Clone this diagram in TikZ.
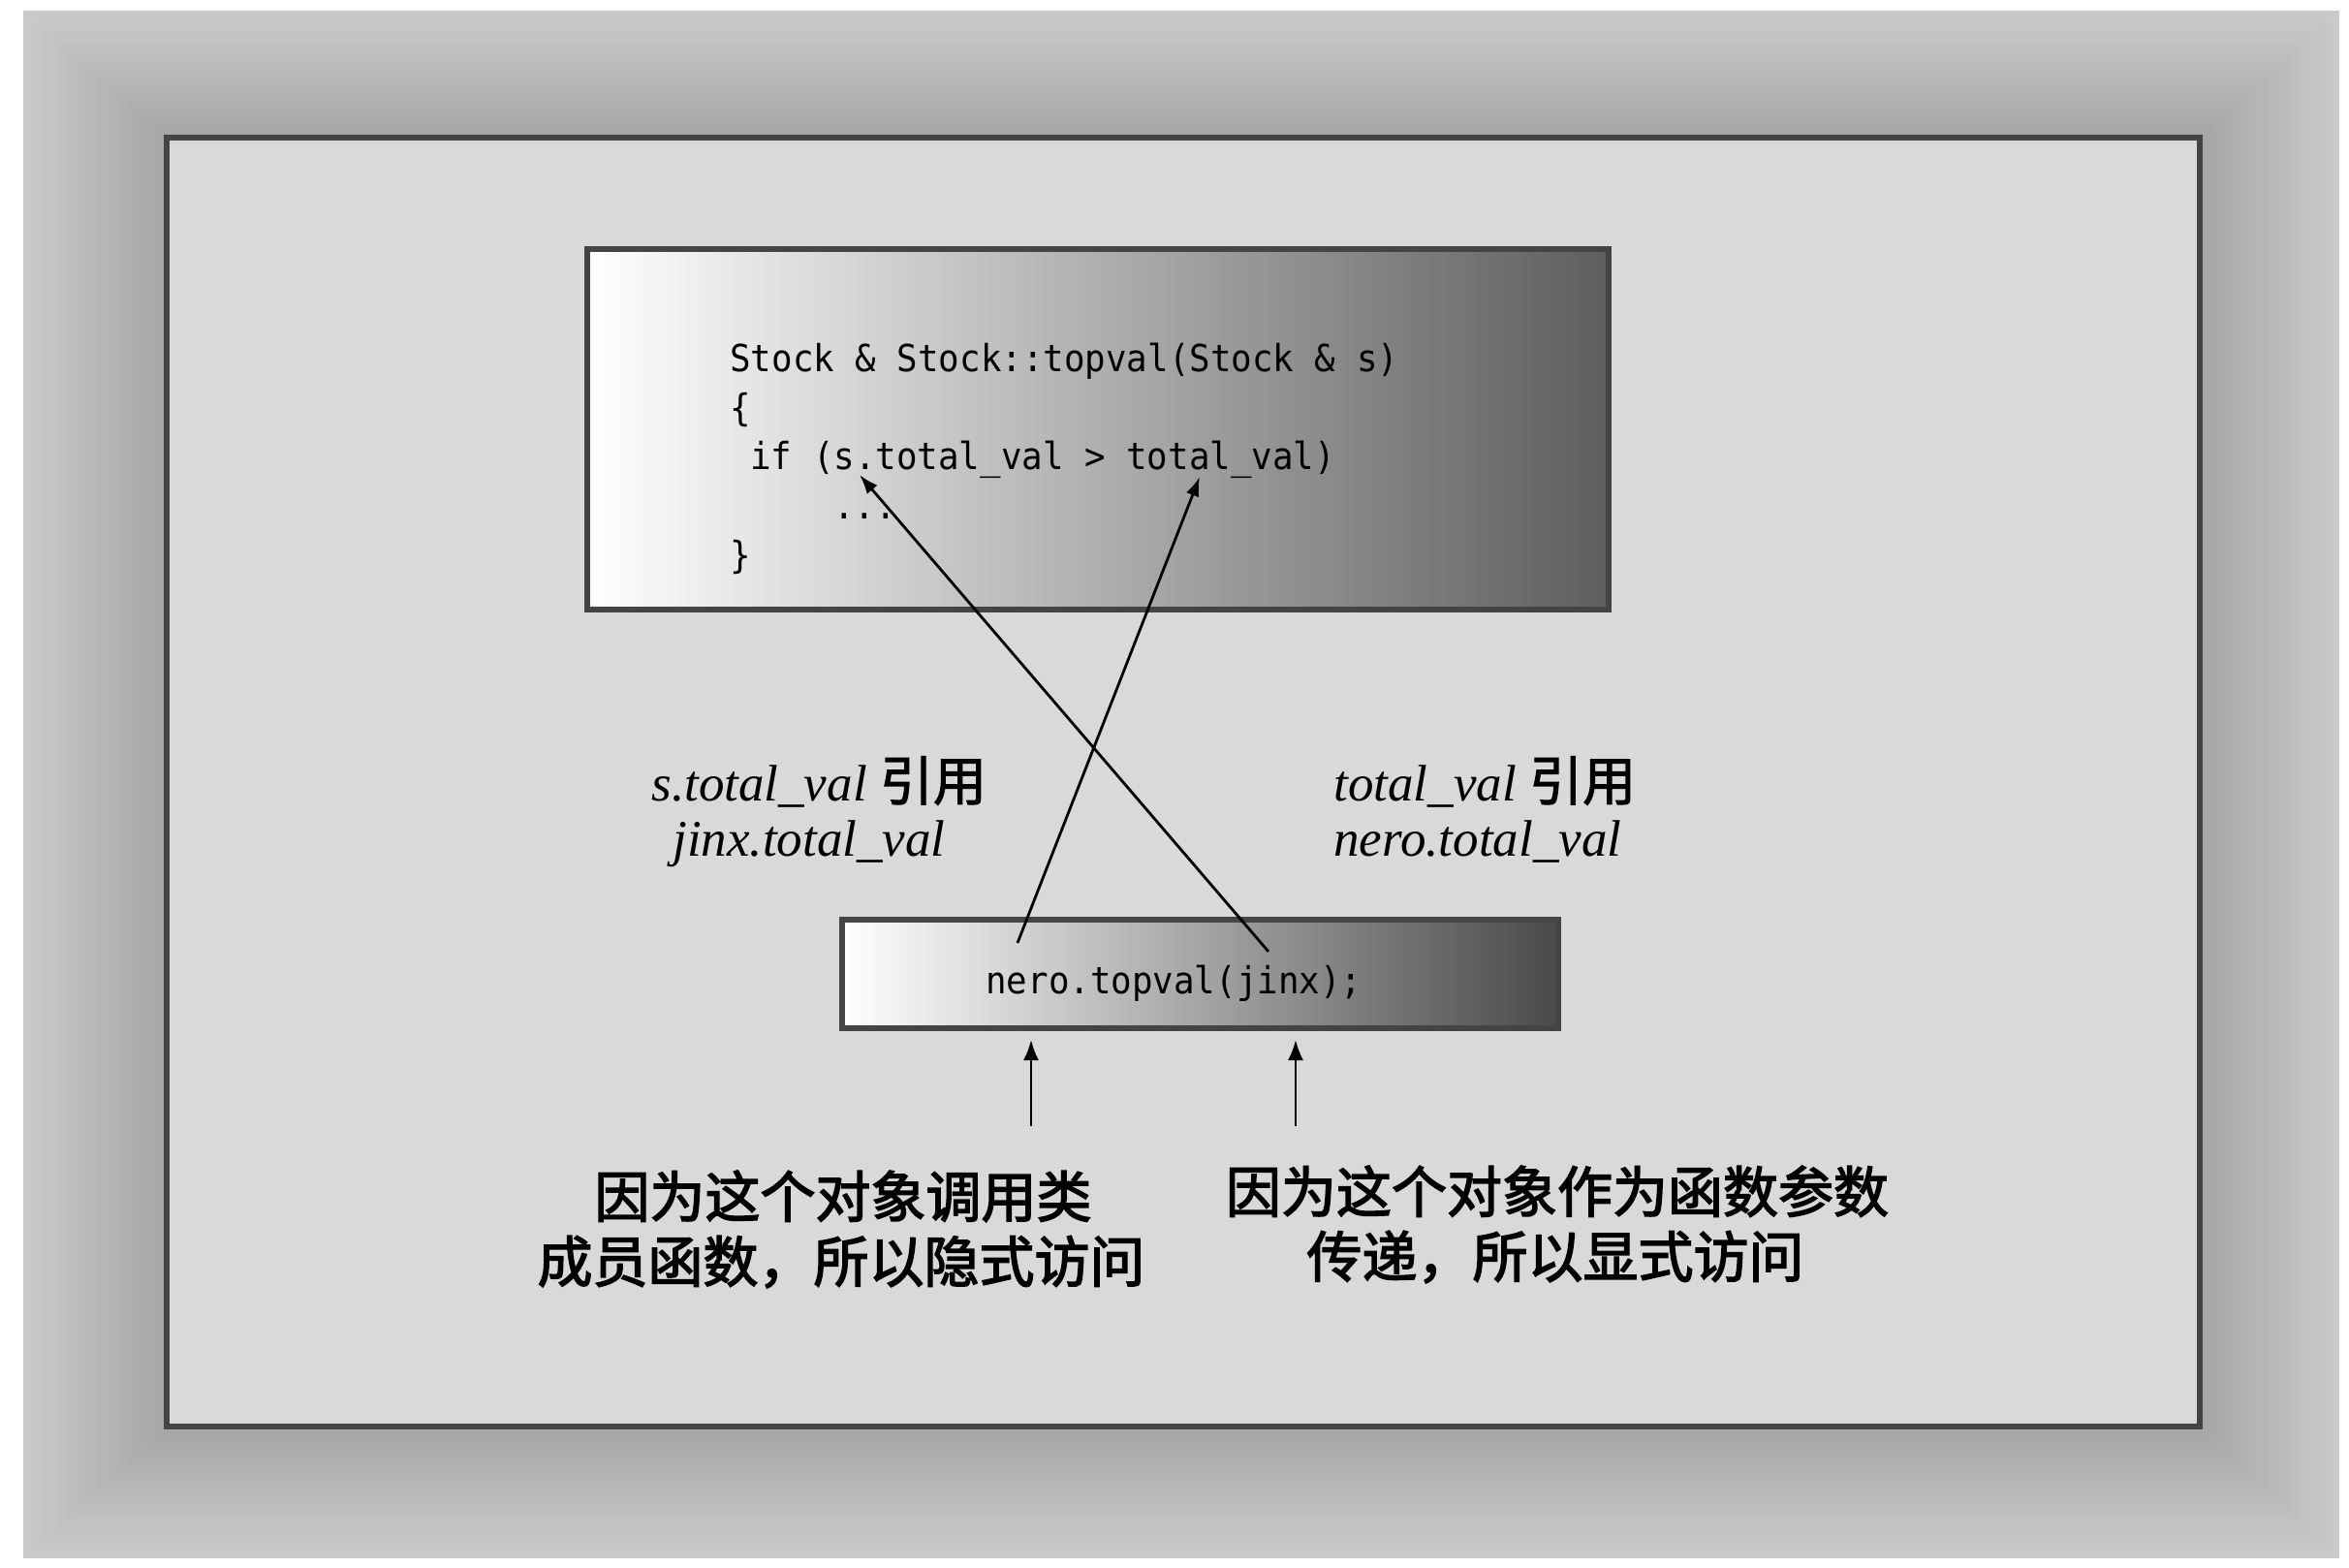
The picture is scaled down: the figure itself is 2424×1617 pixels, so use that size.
\documentclass[tikz,border=0pt]{standalone}
\usepackage{fontspec}
\usetikzlibrary{arrows.meta}
\newfontfamily\codefont[FakeStretch=0.93]{DejaVu Sans Mono}
\newfontfamily\lblfont{Liberation Serif}
\newfontfamily\lblcjk[FakeBold=2]{Noto Sans CJK SC}
\newfontfamily\cjkfont[FakeBold=2.6]{Noto Sans CJK SC}
\definecolor{edge}{HTML}{444444}
\definecolor{panel}{HTML}{D9D9D9}
\definecolor{codeR}{HTML}{5E5E5E}
\definecolor{callR}{HTML}{4A4A4A}
\begin{document}
\begin{tikzpicture}[x=0.5pt,y=-0.5pt,
  codeline/.style={anchor=base west, inner sep=0pt, font=\codefont\fontsize{19.25}{23}\selectfont},
  lbl/.style={anchor=base west, inner sep=0pt, font=\lblfont\itshape\fontsize{26.5}{32}\selectfont},
  note/.style={anchor=base, inner sep=0pt, font=\cjkfont\fontsize{28.5}{34}\selectfont},
  link/.style={line width=1.4pt, -{Latex[length=10pt,width=7pt]}},
  pointer/.style={line width=1.3pt, -{Latex[length=10.5pt,width=8pt]}},
  panelbox/.style={draw=edge, line width=3pt, inner sep=0pt, rectangle}
]
\useasboundingbox (0,0) rectangle (2424,1617);
\fill[white] (0,0) rectangle (2424,1617);
\foreach \i in {0,...,29}{
  \pgfmathsetmacro\t{\i/29}
  \pgfmathsetmacro\xa{24+145*\t}
  \pgfmathsetmacro\ya{11+128*\t}
  \pgfmathsetmacro\xb{2414-141*\t}
  \pgfmathsetmacro\yb{1608-133*\t}
  \pgfmathsetmacro\g{20.8+14.2*\t}
  \fill[black!\g] (\xa,\ya) rectangle (\xb,\yb);
}
% main panel
\node[panelbox, fill=panel, minimum width=1049pt, minimum height=665pt] (frame) at (1221,807) {};
% code box
\node[panelbox, left color=white, right color=codeR, minimum width=527pt, minimum height=186pt] (codebox) at (1133,443) {};
\node[codeline] (c1) at (753,383) {Stock \& Stock::topval(Stock \& s)};
\node[codeline] (c2) at (753,434) {\{};
\node[codeline] (c3) at (774,484) {if (s.total\_val > total\_val)};
\node[codeline] (c4) at (860,535) {...};
\node[codeline] (c5) at (753,586) {\}};
% call box
\node[panelbox, left color=white, right color=callR, minimum width=369.5pt, minimum height=56pt] (callbox) at (1238.5,1005) {};
\node[codeline] (call) at (1017,1025) {nero.topval(jinx);};
% labels
\node[lbl] (l1a) at (672,826) {s.total\_val {\lblcjk\upshape\fontsize{27.5}{32}\selectfont 引用}};
\node[lbl] (l1b) at (694,883) {jinx.total\_val};
\node[lbl] (l2a) at (1376,826) {total\_val {\lblcjk\upshape\fontsize{27.5}{32}\selectfont 引用}};
\node[lbl] (l2b) at (1376,883) {nero.total\_val};
% arrows between code
\coordinate (sdot) at (887,490);
\coordinate (tval) at (1238,492);
\coordinate (fromA) at (1050,973);
\coordinate (fromB) at (1309,982);
\draw[link] (fromA) -- (tval);
\draw[link] (fromB) -- (sdot);
% up pointers
\coordinate (upA) at (1064,1162);
\coordinate (tipA) at (1064,1073);
\coordinate (upB) at (1337,1162);
\coordinate (tipB) at (1337,1073);
\draw[pointer] (upA) -- (tipA);
\draw[pointer] (upB) -- (tipB);
% notes
\node[note] (n1a) at (870,1256) {因为这个对象调用类};
\node[note] (n1b) at (868,1323) {成员函数，所以隐式访问};
\node[note] (n2a) at (1607,1251) {因为这个对象作为函数参数};
\node[note] (n2b) at (1605,1318) {传递，所以显式访问};
\end{tikzpicture}
\end{document}
